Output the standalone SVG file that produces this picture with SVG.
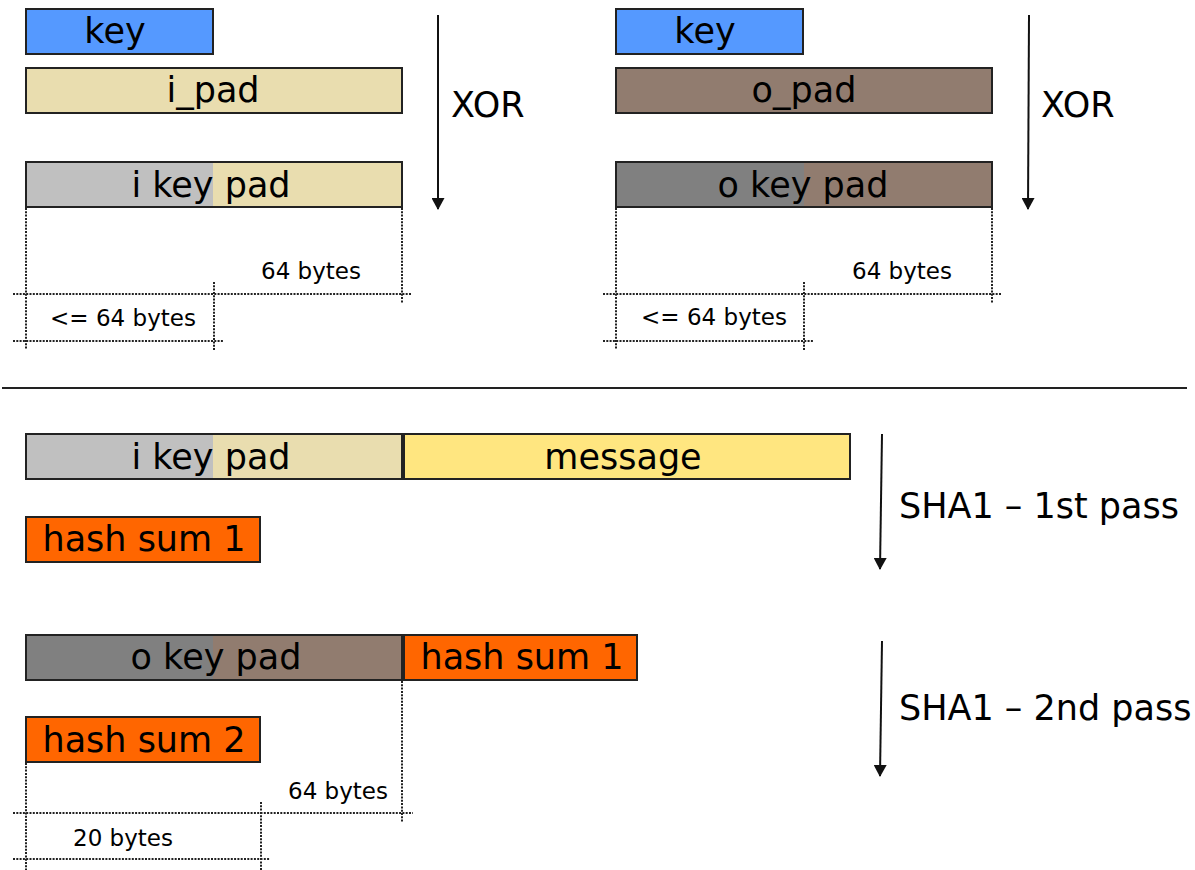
<svg xmlns="http://www.w3.org/2000/svg" width="1195" height="870" viewBox="0 0 1195 870">
<defs>
<marker id="ah" markerUnits="userSpaceOnUse" markerWidth="12" markerHeight="13" refX="11" refY="6.5" orient="auto" viewBox="0 0 12 13">
<path d="M0,0 L12,6.5 L0,13 Z" fill="#111"/>
</marker>
<style>
.box{stroke:#222;stroke-width:2}
.nos{stroke:none}
.t{font-family:"DejaVu Sans","Bitstream Vera Sans",sans-serif;fill:#000;text-anchor:middle}
.big{font-size:35px}
.sm{font-size:23px}
.lbl{font-family:"DejaVu Sans","Bitstream Vera Sans",sans-serif;fill:#000;font-size:35px}
.dot{stroke:#222;stroke-width:2;stroke-dasharray:2 1.3;fill:none}
.arr{stroke:#111;stroke-width:2;fill:none}
.key{fill:#5599ff}
.ipad{fill:#e9ddaf}
.ikey{fill:#c0c0c0}
.opad{fill:#917c6f}
.okey{fill:#808080}
.msg{fill:#ffe680}
.hash{fill:#ff6600}
</style>
</defs>
<rect width="1195" height="870" fill="#fff"/>

<!-- top left -->
<g id="key1"><rect class="box key" x="26" y="9" width="187" height="45"/><text class="t big" x="115" y="43">key</text></g>
<g id="ipad"><rect class="box ipad" x="26" y="68" width="376" height="45"/><text class="t big" x="213" y="102">i_pad</text></g>
<g id="ikeypad1">
<rect class="nos ikey" x="26" y="162" width="187" height="45"/>
<rect class="nos ipad" x="213" y="162" width="189" height="45"/>
<rect class="box" fill="none" x="26" y="162" width="376" height="45"/>
<text class="t big" x="211" y="197">i key pad</text></g>

<!-- top right -->
<g id="key2"><rect class="box key" x="616" y="9" width="187" height="45"/><text class="t big" x="705" y="43">key</text></g>
<g id="opad"><rect class="box opad" x="616" y="68" width="376" height="45"/><text class="t big" x="804" y="102">o_pad</text></g>
<g id="okeypad1">
<rect class="nos okey" x="616" y="162" width="188" height="45"/>
<rect class="nos opad" x="804" y="162" width="188" height="45"/>
<rect class="box" fill="none" x="616" y="162" width="376" height="45"/>
<text class="t big" x="803" y="197">o key pad</text></g>

<!-- bottom -->
<g id="ikeypad2">
<rect class="nos ikey" x="26" y="434" width="187" height="45"/>
<rect class="nos ipad" x="213" y="434" width="189" height="45"/>
<rect class="box" fill="none" x="26" y="434" width="376" height="45"/>
<text class="t big" x="211" y="469">i key pad</text></g>
<g id="message"><rect class="box msg" x="404" y="434" width="446" height="45"/><text class="t big" x="623" y="469">message</text></g>
<g id="hash1"><rect class="box hash" x="26" y="517" width="234" height="45"/><text class="t big" x="144" y="551">hash sum 1</text></g>

<g id="okeypad2">
<rect class="nos okey" x="26" y="635" width="187" height="45"/>
<rect class="nos opad" x="213" y="635" width="189" height="45"/>
<rect class="box" fill="none" x="26" y="635" width="376" height="45"/>
<text class="t big" x="216" y="669">o key pad</text></g>
<g id="hash1b"><rect class="box hash" x="404" y="635" width="233" height="45"/><text class="t big" x="522" y="669">hash sum 1</text></g>
<g id="hash2"><rect class="box hash" x="26" y="717" width="234" height="45"/><text class="t big" x="144" y="752">hash sum 2</text></g>

<!-- connectors -->
<g id="connectors">
<line class="arr" x1="438" y1="15" x2="438" y2="209" marker-end="url(#ah)"/>
<line class="arr" x1="1029" y1="15" x2="1028" y2="209" marker-end="url(#ah)"/>
<line class="arr" x1="882" y1="434" x2="880" y2="569" marker-end="url(#ah)"/>
<line class="arr" x1="882" y1="641" x2="880" y2="776" marker-end="url(#ah)"/>
<line x1="2" y1="388" x2="1187" y2="388" stroke="#222" stroke-width="2"/>
</g>

<g id="labels">
<text class="lbl" x="451" y="117">XOR</text>
<text class="lbl" x="1041" y="117">XOR</text>
<text class="lbl" x="899" y="518">SHA1 – 1st pass</text>
<text class="lbl" x="899" y="720">SHA1 – 2nd pass</text>
</g>

<!-- dimension lines -->
<g id="dims">
<path class="dot" d="M26,208 V350 M402,208 V303 M13,294 H412 M214,282 V350 M13,341 H223"/>
<path class="dot" d="M616,208 V350 M992,208 V303 M603,294 H1002 M804,282 V350 M603,341 H814"/>
<path class="dot" d="M26,763 V870 M402,681 V822 M13,813 H413 M261,802 V870 M13,859 H270"/>
<text class="t sm" x="311" y="279">64 bytes</text>
<text class="t sm" x="123" y="326">&lt;= 64 bytes</text>
<text class="t sm" x="902" y="279">64 bytes</text>
<text class="t sm" x="714" y="325">&lt;= 64 bytes</text>
<text class="t sm" x="338" y="799">64 bytes</text>
<text class="t sm" x="123" y="846">20 bytes</text>
</g>
</svg>
